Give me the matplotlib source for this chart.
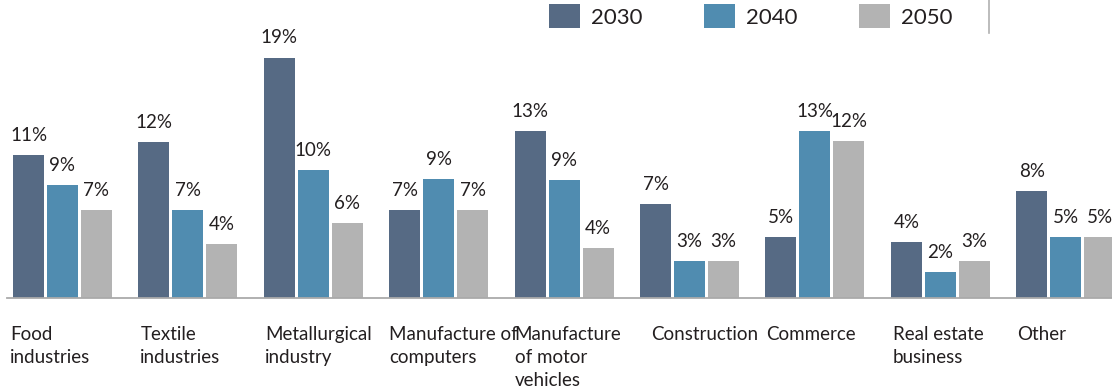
import matplotlib.pyplot as plt
import numpy as np
from matplotlib.lines import Line2D

plt.rcParams['font.family'] = ['Lato', 'DejaVu Sans']

categories = ["Food\nindustries", "Textile\nindustries", "Metallurgical\nindustry",
              "Manufacture of\ncomputers", "Manufacture\nof motor\nvehicles",
              "Construction", "Commerce", "Real estate\nbusiness", "Other"]
years = ["2030", "2040", "2050"]
share_2030 = [11.3, 12.3, 19.0, 6.9, 13.2, 7.4, 4.8, 4.4, 8.4]
share_2040 = [8.9, 6.9, 10.1, 9.4, 9.3, 2.9, 13.2, 2.0, 4.8]
share_2050 = [6.9, 4.2, 5.9, 6.9, 3.9, 2.9, 12.4, 2.9, 4.8]
colors = ["#566a84", "#508cb0", "#b3b3b3"]
text_color = "#231f20"

W, H = 1112, 388
fig = plt.figure(figsize=(W / 100, H / 100), dpi=100)

# axes in pixel terms: bottom spine at y=297.5, left edge at x=7
base_px = 297.5
ax = fig.add_axes([7 / W, (H - base_px) / H, (W - 7) / W, base_px / H])

group_step = 125.4          # px between groups
px = 1 / group_step         # one pixel in data units
bar_w = 31 * px
bar_step = 34 * px
x = np.arange(len(categories))

bars = []
for k, (vals, c) in enumerate(zip([share_2030, share_2040, share_2050], colors)):
    b = ax.bar(x + (k - 1) * bar_step, vals, width=bar_w, color=c, label=years[k])
    bars.append(b)
    for xi, v in zip(x, vals):
        ax.annotate(f"{round(v)}%", xy=(xi + (k - 1) * bar_step, v), xytext=(0, 8),
                    textcoords="offset points", ha="center", va="bottom",
                    fontsize=13.5, color=text_color)

first_left = 13
ax.set_xlim(-(first_left + 49.5 - 7) * px, -(first_left + 49.5 - 7) * px + (W - 7) * px)
ax.set_ylim(0, base_px / 12.63)

label_shift = [-3, 2, 1, 0, 0, 11, 1, 2, 1]
for xi, name, sh in zip(x, categories, label_shift):
    ax.annotate(name, xy=(xi - 1.5 * bar_step + (bar_step - bar_w) / 2, 0),
                xytext=(sh * 0.72, -20.5), textcoords="offset points",
                ha="left", va="top", fontsize=13.5, color=text_color, linespacing=1.42)

for s in ["top", "right", "left"]:
    ax.spines[s].set_visible(False)
ax.spines["bottom"].set_color("#aaaaaa")
ax.spines["bottom"].set_linewidth(1.3)
ax.set_xticks([])
ax.set_yticks([])

fig.legend(handles=bars, labels=years, loc="upper left",
           bbox_to_anchor=(549 / W, 1 - 4 / H), ncol=3, frameon=False,
           fontsize=16, handlelength=1.4, handleheight=1.3, handletextpad=0.5,
           columnspacing=2.75, borderpad=0, borderaxespad=0, labelcolor=text_color)

fig.add_artist(Line2D([989 / W, 989 / W], [1, 1 - 33 / H], color="#b0b0b0", linewidth=1.2))

fig.savefig("out.png", dpi=100)
